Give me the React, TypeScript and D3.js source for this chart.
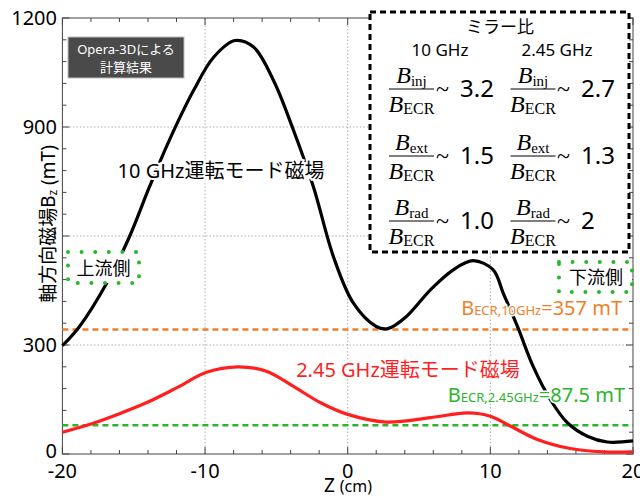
import React from 'react'
import { scaleLinear, line, curveCatmullRom, range } from 'd3'

// 10 GHz mode field (black)
const z10 = [-20, -18.8, -16.9, -15.3, -13.9, -12.5, -10.8, -9.4, -7.9, -6.6, -5.2, -3.8, -2.4, -1.0, 0.4, 2.0, 2.8, 4.1, 5.8, 7.4, 8.8, 10.2, 10.9, 11.9, 13.0, 14.2, 15.4, 16.8, 18.2, 20]
const bz10 = [298, 351, 470, 598, 735, 864, 1001, 1092, 1138, 1120, 1028, 891, 735, 543, 415, 351, 345, 378, 452, 507, 532, 507, 443, 351, 241, 150, 86, 49, 33, 36]

// 2.45 GHz mode field (red)
const z245 = [-20, -17.9, -16.0, -14.0, -12.0, -9.9, -7.7, -5.7, -3.8, -1.9, 0, 2.7, 5.8, 8.4, 10.0, 11.4, 13.3, 15.6, 17.9, 20]
const bz245 = [60, 84, 111, 143, 182, 225, 240, 228, 186, 141, 109, 88, 100, 113, 104, 77, 40, 15, 6, 6]

// ECR resonance lines (where they are drawn)
const ecr10 = 343
const ecr245 = 79

const xTicks = [-20, -10, 0, 10, 20]
const yTickLabels = [0, 300, 900, 1200]
const xGrid = [-10, 0, 10]
const yGrid = [300, 600, 900]

const ratioSubs = ['inj', 'ext', 'rad']
const ratio10 = ['3.2', '1.5', '1.0']
const ratio245 = ['2.7', '1.3', '2']

const W = 640, H = 497
const SANS = "'Noto Sans', 'Noto Sans CJK JP', sans-serif"
const SERIF = "'Liberation Serif', serif"
const ORANGE = '#f07f2a'
const GREEN = '#2bb52b'
const RED = '#ff1f1f'

export default function App() {
  const x = scaleLinear().domain([-20, 20]).range([62.4, 633])
  const y = scaleLinear().domain([0, 1200]).range([454, 18])

  const gen = line<[number, number]>()
    .x(d => x(d[0]))
    .y(d => y(d[1]))
    .curve(curveCatmullRom.alpha(0.5))

  const path10 = gen(z10.map((z, i) => [z, bz10[i]]))
  const path245 = gen(z245.map((z, i) => [z, bz245[i]]))

  const xMinor = range(-20, 21, 2)
  const yMinor = range(0, 1201, 60)
  const [x0, x1] = x.range()
  const [y0, y1] = y.range()

  // mirror ratio layout
  const rowLines = [89, 156, 221]
  const cols = [{ cx: 411.5, tx: 436, vx: 460, vals: ratio10 }, { cx: 533, tx: 557, vx: 581, vals: ratio245 }]

  return (
    <svg width={W} height={H} style={{ position: 'absolute', left: 0, top: 0, background: '#fff' }}>
      {/* grid */}
      {xGrid.map(v => (
        <line key={'gx' + v} x1={x(v)} x2={x(v)} y1={y0} y2={y1} stroke="#999" strokeWidth={0.8} strokeDasharray="1.5 2" />
      ))}
      {yGrid.map(v => (
        <line key={'gy' + v} x1={x0} x2={x1} y1={y(v)} y2={y(v)} stroke="#999" strokeWidth={0.8} strokeDasharray="1.5 2" />
      ))}

      {/* frame + ticks */}
      <rect x={x0} y={y1} width={x1 - x0} height={y0 - y1} fill="none" stroke="#444" strokeWidth={1} />
      {xMinor.map(v => (
        <g key={'tx' + v}>
          <line x1={x(v)} x2={x(v)} y1={y0} y2={y0 - (v % 10 === 0 ? 7 : 4)} stroke="#444" />
          <line x1={x(v)} x2={x(v)} y1={y1} y2={y1 + (v % 10 === 0 ? 7 : 4)} stroke="#444" />
        </g>
      ))}
      {yMinor.map(v => (
        <g key={'ty' + v}>
          <line x1={x0} x2={x0 + (v % 300 === 0 ? 7 : 4)} y1={y(v)} y2={y(v)} stroke="#444" />
          <line x1={x1} x2={x1 - (v % 300 === 0 ? 7 : 4)} y1={y(v)} y2={y(v)} stroke="#444" />
        </g>
      ))}

      {/* ECR lines */}
      <line x1={x0} x2={x1} y1={y(ecr10)} y2={y(ecr10)} stroke={ORANGE} strokeWidth={2.5} strokeDasharray="6 4" />
      <line x1={x0} x2={x1} y1={y(ecr245)} y2={y(ecr245)} stroke={GREEN} strokeWidth={2.5} strokeDasharray="6 4" />

      {/* curves */}
      <path d={path245 || ''} fill="none" stroke={RED} strokeWidth={3.2} />
      <path d={path10 || ''} fill="none" stroke="#000" strokeWidth={3.2} />

      {/* tick labels */}
      {xTicks.map(v => (
        <text key={'lx' + v} x={x(v)} y={478} textAnchor="middle" fontFamily={SANS} fontSize={20}>{v}</text>
      ))}
      {yTickLabels.map(v => (
        <text key={'ly' + v} x={57} y={y(v) + (v === 0 ? 4 : 7)} textAnchor="end" fontFamily={SANS} fontSize={20}>{v}</text>
      ))}
      <text x={348} y={492} textAnchor="middle" fontFamily={SANS}>
        <tspan fontSize={19}>Z </tspan><tspan fontSize={16}>(cm)</tspan>
      </text>
      <text transform="translate(55,224) rotate(-90)" textAnchor="middle" fontFamily={SANS} fontSize={19}>
        軸方向磁場B<tspan fontSize={12} dy={2}>z</tspan><tspan dy={-2}> (mT)</tspan>
      </text>

      {/* Opera box */}
      <rect x={68} y={37} width={116} height={41} fill="#4a4a4a" stroke="#bbb" />
      <text x={126} y={54} textAnchor="middle" fill="#fff" fontFamily={SANS} fontSize={13}>Opera-3Dによる</text>
      <text x={126} y={72} textAnchor="middle" fill="#fff" fontFamily={SANS} fontSize={13}>計算結果</text>

      {/* curve labels */}
      <text x={221} y={178} textAnchor="middle" fontFamily={SANS} fontSize={20} stroke="#fff" strokeWidth={4} paintOrder="stroke">10 GHz運転モード磁場</text>
      <text x={408} y={377} textAnchor="middle" fill={RED} fontFamily={SANS} fontSize={20} stroke="#fff" strokeWidth={4} paintOrder="stroke">2.45 GHz運転モード磁場</text>

      <text x={622} y={315} textAnchor="end" fill={ORANGE} fontFamily={SANS} fontSize={20} stroke="#fff" strokeWidth={3} paintOrder="stroke">
        B<tspan fontSize={13}>ECR,10GHz</tspan>=357 mT
      </text>
      <text x={625} y={402} textAnchor="end" fill={GREEN} fontFamily={SANS} fontSize={20} stroke="#fff" strokeWidth={3} paintOrder="stroke">
        B<tspan fontSize={13}>ECR,2.45GHz</tspan>=87.5 mT
      </text>

      {/* upstream / downstream */}
      <rect x={68} y={252} width={71} height={31} fill="#fff" stroke={GREEN} strokeWidth={4} strokeLinecap="round" strokeDasharray="0 13.6" />
      <text x={103.5} y={275} textAnchor="middle" fontFamily={SANS} fontSize={18}>上流側</text>
      <rect x={559} y={262} width={73} height={30} fill="#fff" stroke={GREEN} strokeWidth={4} strokeLinecap="round" strokeDasharray="0 13.6" />
      <text x={596} y={284} textAnchor="middle" fontFamily={SANS} fontSize={18}>下流側</text>

      {/* mirror ratio box */}
      <rect x={370} y={12} width={259} height={240} fill="#fff" stroke="#000" strokeWidth={3} strokeDasharray="6 4" />
      <text x={500} y={33} textAnchor="middle" fontFamily={SANS} fontSize={17}>ミラー比</text>
      <text x={440} y={56} textAnchor="middle" fontFamily={SANS} fontSize={17}>10 GHz</text>
      <text x={557} y={56} textAnchor="middle" fontFamily={SANS} fontSize={17}>2.45 GHz</text>
      {rowLines.map((ly, i) => (
        <g key={'row' + i}>
          {cols.map((c, j) => (
            <g key={'c' + j}>
              <text x={c.cx} y={ly - 6} textAnchor="middle" fontFamily={SERIF} fontSize={24}>
                <tspan fontStyle="italic">B</tspan><tspan fontSize={15} dy={3}>{ratioSubs[i]}</tspan>
              </text>
              <line x1={c.cx - 22.5} x2={c.cx + 22.5} y1={ly} y2={ly} stroke="#000" strokeWidth={1.2} />
              <text x={c.cx} y={ly + 23} textAnchor="middle" fontFamily={SERIF} fontSize={24}>
                <tspan fontStyle="italic">B</tspan><tspan fontSize={16} dy={2}>ECR</tspan>
              </text>
              <text x={c.tx} y={ly + 8} fontFamily={SERIF} fontSize={24}>~</text>
              <text x={c.vx} y={ly + 8} fontFamily={SANS} fontSize={24}>{c.vals[i]}</text>
            </g>
          ))}
        </g>
      ))}
    </svg>
  )
}
